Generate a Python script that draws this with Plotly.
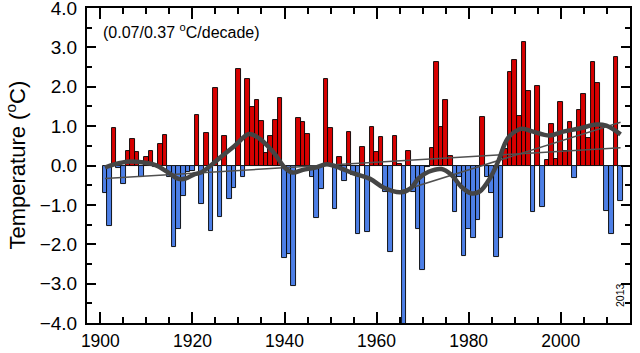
import plotly.graph_objects as go

years = list(range(1901, 2014))
anomaly = [
    -0.71, -1.53, 0.96, -0.07, -0.48, 0.38, 0.68, 0.34, -0.29, 0.21,   # 1901-1910
    0.38, -0.03, 0.54, 0.77, -0.30, -2.06, -1.62, -0.77, -0.16, -0.14,  # 1911-1920
    1.28, -0.98, 0.83, -1.66, 1.96, -1.30, 0.76, -0.84, -0.57, 2.44,    # 1921-1930
    -0.28, 2.19, 1.49, 1.67, 1.12, 0.33, 0.76, 1.16, 1.71, -2.36,      # 1931-1940
    -2.25, -3.05, 1.21, 1.11, 0.80, -0.30, -1.34, -0.60, 2.20, 0.96,    # 1941-1950
    -1.10, 0.21, -0.39, 0.85, -0.24, -1.75, 0.46, -1.68, 0.99, 0.34,    # 1951-1960
    0.73, -0.68, -2.19, 0.75, 0.05, -4.30, 0.37, -0.68, -1.62, -2.65,   # 1961-1970
    -0.03, 0.44, 2.63, 0.97, 1.66, 0.25, -1.17, -0.28, -2.29, -1.61,    # 1971-1980
    -1.85, -1.38, 1.22, -0.28, -0.71, -2.33, -1.85, 0.43, 2.38, 2.68,   # 1981-1990
    1.26, 3.14, 1.89, -1.19, 2.02, -1.06, 0.14, 1.05, 0.17, 1.61,       # 1991-2000
    0.38, 1.10, -0.31, 1.42, 1.81, 0.69, 2.62, 2.09, 1.00, -1.16,       # 2001-2010
    -1.75, 2.76, -0.89,                                                 # 2011-2013
]

smooth_years = [1901, 1903, 1906.5, 1909, 1912, 1914.5, 1917, 1918.5, 1920.5, 1922,
                1926, 1929, 1932.3, 1934.5, 1937.5, 1940.2, 1941.8, 1944, 1946.5,
                1949.2, 1952.2, 1955, 1958.6, 1961.5, 1965.2, 1967.4, 1969.1, 1971.3,
                1974.1, 1976.3, 1978.4, 1980.6, 1982.4, 1984.6, 1986.4, 1988.5, 1991,
                1992, 1994, 1997.6, 2000.5, 2004.1, 2007.7, 2009.9, 2013]
smooth_vals = [-0.05, 0.03, 0.10, 0.08, 0.01, -0.16, -0.34, -0.33, -0.22, -0.17,
               0.20, 0.48, 0.80, 0.69, 0.35, -0.07, -0.18, -0.11, -0.06,
               0.03, -0.07, -0.20, -0.34, -0.56, -0.68, -0.58, -0.33, -0.16,
               -0.09, -0.24, -0.54, -0.71, -0.66, -0.33, 0.10, 0.69, 0.92,
               0.93, 0.86, 0.76, 0.86, 0.94, 1.04, 1.01, 0.79]

trend_long_years = [1901, 2013]
trend_long_vals = [-0.33, 0.45]
trend_recent_years = [1965, 2013]
trend_recent_vals = [-0.66, 1.10]

x_ticks = [1900, 1920, 1940, 1960, 1980, 2000]
y_ticks = [-4, -3, -2, -1, 0, 1, 2, 3, 4]

RED = "#d80000"
BLUE = "#4d7fe6"
colors = [RED if v >= 0 else BLUE for v in anomaly]

fig = go.Figure()
fig.add_trace(go.Bar(
    x=years, y=anomaly, width=1.0,
    marker=dict(color=colors, line=dict(color="black", width=0.9)),
    hoverinfo="x+y",
))
fig.add_trace(go.Scatter(x=trend_long_years, y=trend_long_vals, mode="lines",
                         line=dict(color="#505050", width=1.5)))
fig.add_trace(go.Scatter(x=trend_recent_years, y=trend_recent_vals, mode="lines",
                         line=dict(color="#505050", width=1.5)))
fig.add_trace(go.Scatter(x=smooth_years, y=smooth_vals, mode="lines",
                         line=dict(color="#454545", width=4.5, shape="spline", smoothing=1.0)))

axis_common = dict(
    showline=True, linecolor="black", linewidth=2, mirror="allticks",
    ticks="inside", tickcolor="black", tickwidth=1.5,
    showgrid=False, zeroline=False, automargin=False,
    ticklabeloverflow="allow",
)

fig.update_xaxes(range=[1897.1, 2015.05], tickvals=x_ticks, ticklen=11,
                 minor=dict(ticks="inside", dtick=5, tick0=1900, ticklen=6,
                            tickcolor="black", tickwidth=1.5, showgrid=False),
                 ticklabelstandoff=1, tickfont=dict(size=17.5, color="black"),
                 **axis_common)
fig.update_yaxes(range=[-4, 4], tickvals=y_ticks, tickformat=".1f", ticklen=9,
                 minor=dict(ticks="inside", dtick=0.5, tick0=0, ticklen=5,
                            tickcolor="black", tickwidth=1.5, showgrid=False),
                 ticklabelstandoff=4, tickfont=dict(size=19, color="black"),
                 **axis_common)

fig.add_annotation(text="Temperature (<sup>o</sup>C)", xref="paper", yref="paper",
                   x=0, y=0.5, xshift=-72, textangle=-90, showarrow=False,
                   font=dict(size=22, color="black"), xanchor="center", yanchor="middle")
fig.add_annotation(text="(0.07/0.37 <sup>o</sup>C/decade)", xref="paper", yref="paper",
                   x=0, y=1, xshift=14, yshift=-11, showarrow=False,
                   font=dict(size=16, color="black"), xanchor="left", yanchor="top")
fig.add_annotation(text="2013", xref="paper", yref="paper",
                   x=1, y=0, xshift=-10, yshift=14, textangle=-90, showarrow=False,
                   font=dict(size=10.5, color="black"), xanchor="center", yanchor="bottom")

fig.update_layout(
    width=640, height=353,
    margin=dict(l=87, r=10, t=8, b=30),
    plot_bgcolor="white", paper_bgcolor="white",
    showlegend=False, bargap=0,
    font=dict(family="Liberation Sans, Arial, sans-serif", color="black"),
)

fig.write_html("out.html")
